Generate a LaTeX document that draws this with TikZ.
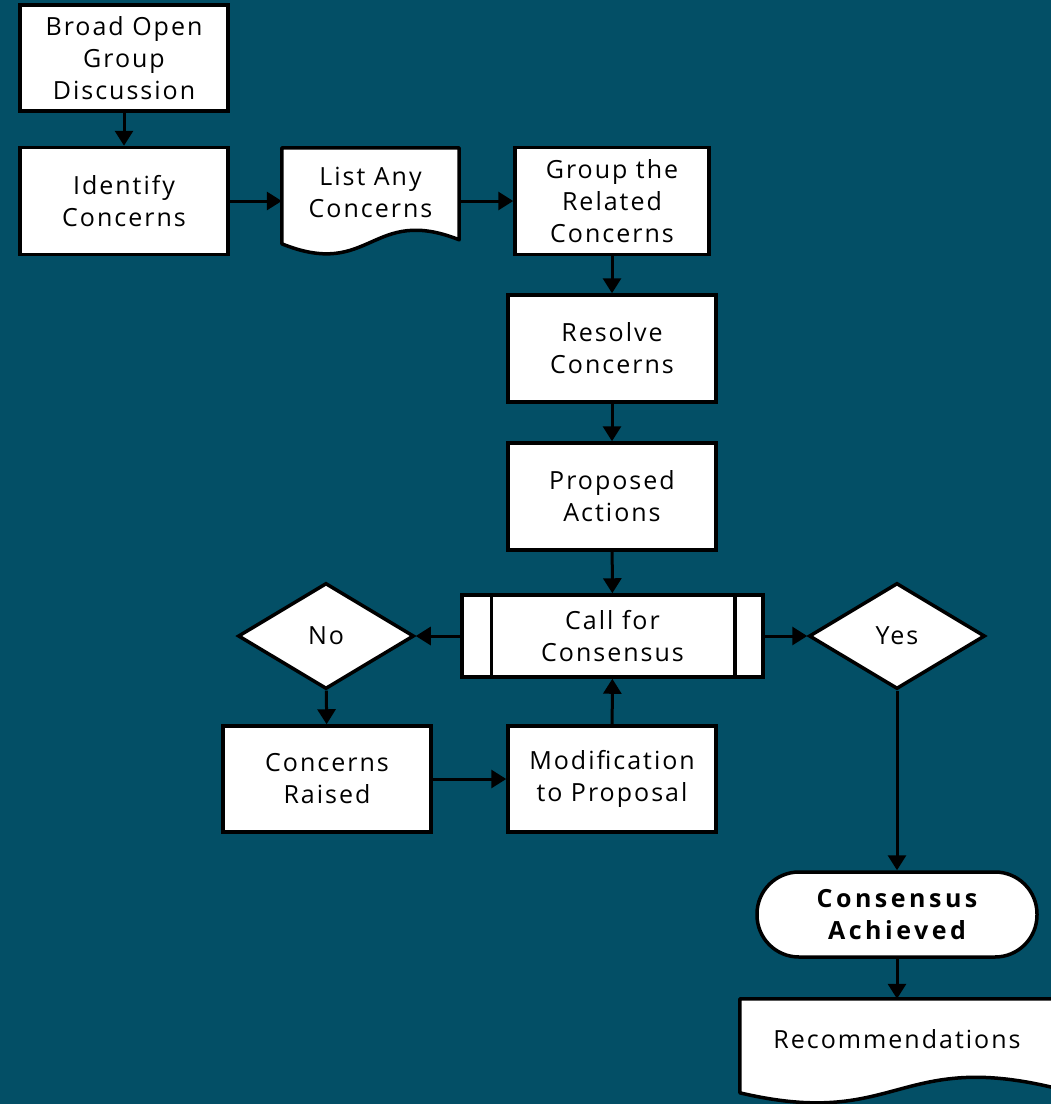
\documentclass[tikz,border=0pt]{standalone}
\usepackage{fontspec}
\setmainfont{Open Sans}[LetterSpace=8, BoldFeatures={LetterSpace=14}]
\usetikzlibrary{arrows.meta,shapes.geometric}
\definecolor{bgteal}{HTML}{034F66}
\pgfdeclarelayer{bglayer}
\pgfdeclarelayer{shapelayer}
\pgfsetlayers{bglayer,shapelayer,main}
\begin{document}
\begin{tikzpicture}[x=1pt,y=-1pt,
  txt/.style={align=center, font=\fontsize{25}{32}\selectfont, inner sep=0pt},
  box/.style={txt, draw=black, fill=white, line width=3.5pt},
  dia/.style={box, diamond, minimum width=176pt, minimum height=106pt},
  shp/.style={draw=black, fill=white, line width=3.5pt, line join=round},
  arr/.style={draw=black, line width=3pt, -{Triangle[length=15pt,width=18pt]}},
]
\begin{pgfonlayer}{bglayer}
\fill[bgteal] (0,0) rectangle (1051,1104);
\end{pgfonlayer}
\useasboundingbox (0,0) rectangle (1051,1104);
\clip (0,0) rectangle (1051,1104);

\node[box, minimum width=208pt, minimum height=106pt] (broad) at (124,58) {Broad Open\\Group\\Discussion};
\node[box, minimum width=208pt, minimum height=107pt] (ident) at (124,201) {Identify\\Concerns};
\node[txt, minimum width=177pt, minimum height=88pt] (list) at (370.5,192) {List Any\\Concerns};
\node[box, minimum width=194pt, minimum height=107pt] (group) at (612,201) {Group the\\Related\\Concerns};
\node[box, minimum width=208pt, minimum height=107pt] (resolve) at (612,348.5) {Resolve\\Concerns};
\node[box, minimum width=208pt, minimum height=107pt] (prop) at (612,496.5) {Proposed\\Actions};
\node[box, minimum width=301pt, minimum height=82pt] (call) at (612.5,636) {Call for\\Consensus};
\node[dia] (no) at (326,636) {No};
\node[dia] (yes) at (897,636) {Yes};
\node[box, minimum width=208pt, minimum height=106pt] (raised) at (327,779) {Concerns\\Raised};
\node[box, minimum width=208pt, minimum height=106pt] (mod) at (612,779) {Modification\\to Proposal};
\node[box, rounded corners=42pt, minimum width=280pt, minimum height=85pt, font=\fontsize{25}{32}\selectfont\bfseries] (cons) at (897,914.5) {Consensus\\Achieved};
\node[txt, minimum width=314pt, minimum height=80pt] (rec) at (897,1039) {Recommendations};

\begin{pgfonlayer}{shapelayer}
% document shape: NW of list = (282,148), NE = (459,148)
\draw[shp] (list.north west) -- (list.north east) -- ([shift={(0,92)}]list.north east)
  .. controls ([shift={(-88,57)}]list.north east) and ([shift={(89,132)}]list.north west) ..
  ([shift={(0,96)}]list.north west) -- cycle;
% document shape: NW of rec = (740,999), NE = (1054,999)
\draw[shp] (rec.north west) -- ([shift={(20,0)}]rec.north east) -- ([shift={(20,89)}]rec.north east)
  -- ([shift={(0,89)}]rec.north east)
  .. controls ([shift={(-157,51)}]rec.north east) and ([shift={(157,131)}]rec.north west) ..
  ([shift={(0,94)}]rec.north west) -- cycle;
\end{pgfonlayer}

\draw[line width=3.5pt] ([xshift=31pt]call.north west) -- ([xshift=31pt]call.south west);
\draw[line width=3.5pt] ([xshift=-30pt]call.north east) -- ([xshift=-30pt]call.south east);

\draw[arr] (broad) -- (ident);
\draw[arr] (ident.east) -- (ident.east -| list.west);
\draw[arr] (group.west -| list.east) -- (group.west);
\draw[arr] (group) -- (resolve);
\draw[arr] (resolve) -- (prop);
\draw[arr] (prop) -- (call);
\draw[arr] (call.west) -- (no.east);
\draw[arr] (call.east) -- (yes.west);
\draw[arr] (no) -- (raised);
\draw[arr] (raised) -- (mod);
\draw[arr] (mod) -- (call);
\draw[arr] (yes) -- (cons);
\draw[arr] (cons) -- (rec);
\end{tikzpicture}
\end{document}
